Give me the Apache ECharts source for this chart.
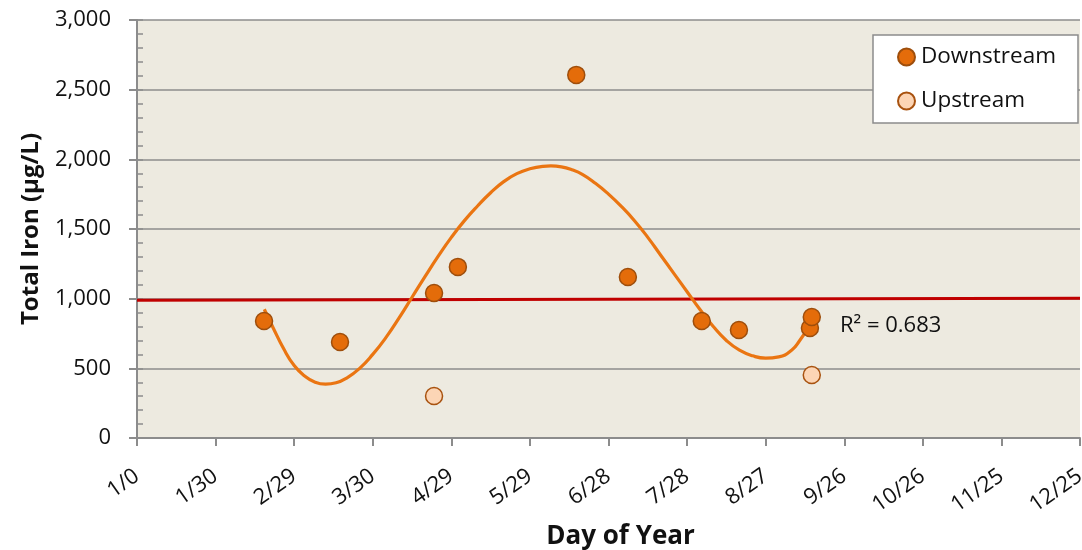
<!DOCTYPE html>
<html>
<head>
<meta charset="utf-8">
<script src="https://cdn.jsdelivr.net/npm/echarts@6/dist/echarts.min.js"></script>
<style>html,body{margin:0;padding:0;background:#fff}#c{width:1082px;height:550px}</style>
</head>
<body>
<div id="c"></div>
<script>
const xTickLabels = ['1/0','1/30','2/29','3/30','4/29','5/29','6/28','7/28','8/27','9/26','10/26','11/25','12/25'];
const downstream = [[48.5,840],[77.5,689],[113.4,1041],[122.5,1228],[167.7,2606],[187.4,1156],[215.6,840],[229.8,775],[256.9,790],[257.6,869]];
const upstream = [[113.4,301],[257.6,452]];
// polynomial trendline
const trendCurve = [[48.6,924],[52,790],[56,640],[60,520],[64,445],[68,400],[72,386],[76,396],[80,430],[85,500],[90,600],[95,720],[100,860],[105,1010],[110,1160],[115,1305],[120,1440],[125,1560],[130,1665],[135,1760],[140,1840],[145,1897],[150,1932],[155,1950],[158,1953],[162,1946],[166,1925],[170,1892],[175,1828],[180,1750],[185,1660],[190,1558],[195,1440],[200,1310],[205,1180],[210,1050],[215,920],[220,800],[225,700],[230,630],[235,590],[240,573],[245,582],[250,632],[253,700],[256.5,797]];
const referenceLine = [[0,988],[360,1003]];
const rSquared = 'R² = 0.683';

const font = 'Open Sans';
const chart = echarts.init(document.getElementById('c'));
chart.setOption({
  animation: false,
  textStyle: {fontFamily: font},
  grid: {left: 137, right: 2, top: 20, bottom: 112, show: true, backgroundColor: '#EDEAE0', borderWidth: 0, outerBoundsMode: 'none', containLabel: false},
  legend: {
    data: ['Downstream','Upstream'],
    orient: 'vertical', right: 4, top: 35,
    backgroundColor: '#fff', borderColor: '#8c8c8c', borderWidth: 1.5,
    padding: [10, 22, 10, 24], itemGap: 20, itemWidth: 17, itemHeight: 17,
    icon: 'circle',
    textStyle: {fontFamily: font, fontSize: 22.5, color: '#111', lineHeight: 24, padding: [0,0,0,1]}
  },
  xAxis: {
    type: 'value', min: 0, max: 360, interval: 30,
    name: 'Day of Year', nameLocation: 'middle', nameGap: 86, nameMoveOverlap: false,
    nameTextStyle: {fontFamily: font, fontSize: 26, fontWeight: 'bold', color: '#111', padding: [0,0,0,24]},
    axisLine: {lineStyle: {color: '#8c8c8c', width: 2}},
    axisTick: {length: 8, lineStyle: {color: '#8c8c8c', width: 2}},
    axisLabel: {rotate: 35, margin: 36, fontSize: 22, color: '#111', fontFamily: font,
      formatter: v => xTickLabels[Math.round(v/30)]},
    splitLine: {show: false}
  },
  yAxis: [{
    type: 'value', min: 0, max: 3000, interval: 500,
    name: 'Total Iron (µg/L)', nameLocation: 'middle', nameGap: 94, nameMoveOverlap: false,
    nameTextStyle: {fontFamily: font, fontSize: 24, fontWeight: 'bold', color: '#111'},
    axisLine: {show: true, lineStyle: {color: '#8c8c8c', width: 2}},
    axisTick: {show: true, length: 8, lineStyle: {color: '#8c8c8c', width: 2}},
    axisLabel: {margin: 26, fontSize: 22, color: '#111', fontFamily: font,
      formatter: v => v.toLocaleString('en-US')},
    splitLine: {lineStyle: {color: '#8c8c8c', width: 1.5}}
  },{
    type: 'value', min: 0, max: 3000, interval: 100, position: 'left',
    axisLine: {show: false},
    axisTick: {show: true, inside: true, length: 6, lineStyle: {color: '#8c8c8c', width: 1.5}},
    axisLabel: {show: false}, splitLine: {show: false}
  }],
  series: [
    {name: 'Trend', type: 'line', data: trendCurve, smooth: 0.5, symbol: 'none',
      lineStyle: {color: '#EA7512', width: 3.2}, z: 3},
    {name: 'Reference', type: 'line', data: referenceLine, symbol: 'none',
      lineStyle: {color: '#C00000', width: 3}, z: 2},
    {name: 'Downstream', type: 'scatter', data: downstream, symbol: 'circle', symbolSize: 17,
      itemStyle: {color: '#E46C0A', borderColor: '#9E4E0C', borderWidth: 1.5, opacity: 1}, z: 4},
    {name: 'Upstream', type: 'scatter', data: upstream, symbol: 'circle', symbolSize: 17,
      itemStyle: {color: '#FCD5B5', borderColor: '#A8520F', borderWidth: 1.5, opacity: 1}, z: 4}
  ],
  graphic: [{type: 'text', left: 840, top: 315, z: 10,
    style: {text: rSquared, font: '22px "Open Sans"', fill: '#111'}}]
});
</script>
</body>
</html>
